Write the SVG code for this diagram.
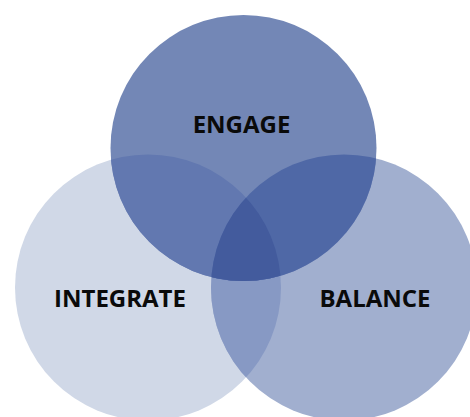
<svg xmlns="http://www.w3.org/2000/svg" width="470" height="417" viewBox="0 0 470 417">
<style>
.lbl{font-family:"Open Sans","Liberation Sans",sans-serif;font-weight:bold;font-size:24px;fill:#0a0a0a;text-anchor:middle}
</style>
<defs>
<clipPath id="cI"><circle cx="148" cy="287.5" r="133"/></clipPath>
<clipPath id="cB"><circle cx="344" cy="287.5" r="133"/></clipPath>
</defs>
<rect width="470" height="417" fill="#ffffff"/>
<g id="integrate">
<circle cx="148" cy="287.5" r="133" fill="#d0d8e7"/>
</g>
<g id="balance">
<circle cx="344" cy="287.5" r="133" fill="#a1afcf"/>
<circle cx="344" cy="287.5" r="133" fill="#8799c4" clip-path="url(#cI)"/>
</g>
<g id="engage">
<circle cx="243.5" cy="148" r="133" fill="#7387b6"/>
<circle cx="243.5" cy="148" r="133" fill="#6278b0" clip-path="url(#cI)"/>
<circle cx="243.5" cy="148" r="133" fill="#4f68a6" clip-path="url(#cB)"/>
<g clip-path="url(#cB)"><circle cx="243.5" cy="148" r="133" fill="#435b9d" clip-path="url(#cI)"/></g>
</g>
<g id="labels">
<text class="lbl" x="241.5" y="133">ENGAGE</text>
<text class="lbl" x="120" y="307">INTEGRATE</text>
<text class="lbl" x="375" y="307">BALANCE</text>
</g>
</svg>
